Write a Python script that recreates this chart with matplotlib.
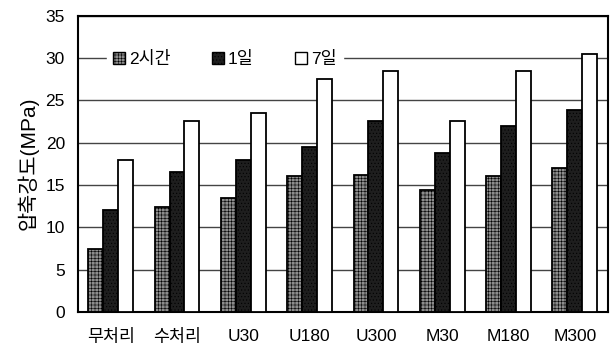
import matplotlib
matplotlib.use("Agg")
import matplotlib.pyplot as plt
import numpy as np

plt.rcParams['font.family'] = ['Liberation Sans', 'Noto Sans CJK KR']
plt.rcParams['hatch.linewidth'] = 0.4

categories = ['무처리', '수처리', 'U30', 'U180', 'U300', 'M30', 'M180', 'M300']
series_names = ['2시간', '1일', '7일']
vals_2h = [7.4, 12.4, 13.4, 16.0, 16.2, 14.4, 16.0, 17.0]
vals_1d = [12.0, 16.5, 17.9, 19.5, 22.5, 18.8, 21.9, 23.9]
vals_7d = [17.9, 22.5, 23.5, 27.5, 28.5, 22.5, 28.5, 30.5]
yticks = [0, 5, 10, 15, 20, 25, 30, 35]

fig = plt.figure(figsize=(6.14, 3.5), dpi=100)
L, R, T, B = 77.5, 608, 15.5, 312
ax = fig.add_axes([L / 614, 1 - B / 350, (R - L) / 614, (B - T) / 350])

x = np.arange(len(categories))
w = 0.225
colors = ['#8c8c8c', '#1e1e1e', '#ffffff']
hatches = ['+++++', '.....', None]
hatch_cols = ['#5a5a5a', '#6a6a6a', 'black']
for i, (vals, c, h, n, hc) in enumerate(zip([vals_2h, vals_1d, vals_7d], colors, hatches,
                                             series_names, hatch_cols)):
    plt.rcParams['hatch.color'] = hc
    ax.bar(x + (i - 1) * w, vals, w, color=c, edgecolor='black', linewidth=1.3,
           hatch=h, label=n, zorder=3)

ax.set_xlim(-0.5, len(categories) - 0.5)
ax.set_ylim(0, 35)
ax.set_yticks(yticks)
ax.yaxis.grid(True, color='#444444', linewidth=1.0, zorder=0)
ax.set_axisbelow(True)
ax.set_xticks(x)
ax.set_xticklabels(categories, fontsize=12.5)
ax.tick_params(axis='both', length=0, labelsize=12.5)
ax.tick_params(axis='x', pad=12)
ax.tick_params(axis='y', pad=9)
for s in ax.spines.values():
    s.set_linewidth(1.5)
ax.set_ylabel('압축강도(MPa)', fontsize=15, labelpad=5)

leg = ax.legend(loc='upper left', bbox_to_anchor=(0.04, 0.93), ncol=3, frameon=True,
                fontsize=12.5, handlelength=0.65, handleheight=0.65, handletextpad=0.25,
                columnspacing=2.4, borderpad=0.35, fancybox=False, edgecolor='white',
                framealpha=1)
leg.set_zorder(5)
for p in leg.get_patches():
    p.set_linewidth(1.0)

fig.savefig('out.png', dpi=100)
